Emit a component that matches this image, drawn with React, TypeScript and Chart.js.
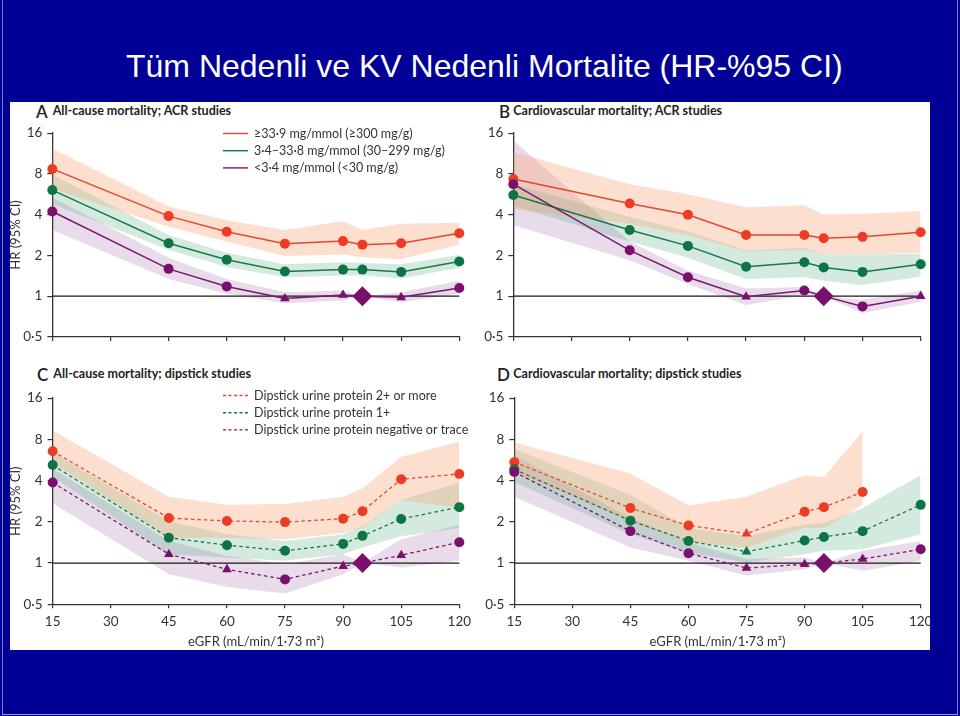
import React, { useEffect, useRef } from 'react';
import { Chart, registerables } from 'chart.js';

Chart.register(...registerables);

// ---------- data ----------
const EGFR = [15, 45, 60, 75, 90, 95, 105, 120];
const X_TICKS = [15, 30, 45, 60, 75, 90, 105, 120];
const Y_TICKS = [0.5, 1, 2, 4, 8, 16];

const TITLE = 'Tüm Nedenli ve KV Nedenli Mortalite (HR-%95 CI)';
const PANEL_LETTERS = ['A', 'B', 'C', 'D'];
const PANEL_TITLES = [
  'All-cause mortality; ACR studies',
  'Cardiovascular mortality; ACR studies',
  'All-cause mortality; dipstick studies',
  'Cardiovascular mortality; dipstick studies',
];
const ACR_LEGEND = ['≥33·9 mg/mmol (≥300 mg/g)', '3·4–33·8 mg/mmol (30–299 mg/g)', '<3·4 mg/mmol (<30 mg/g)'];
const DIP_LEGEND = ['Dipstick urine protein 2+ or more', 'Dipstick urine protein 1+', 'Dipstick urine protein negative or trace'];
const Y_TITLE = 'HR (95% CI)';
const X_TITLE = 'eGFR (mL/min/1·73 m²)';

// significance: s = significant (circle), n = non-significant (triangle), r = reference (diamond)
// Panel A
const redA_hr = [8.7, 3.9, 2.99, 2.44, 2.55, 2.4, 2.46, 2.91];
const redA_hi = [12.3, 4.6, 3.63, 3.08, 3.57, 3.08, 3.43, 3.49];
const redA_lo = [6.2, 3.25, 2.53, 1.98, 2.03, 1.94, 1.87, 2.4];
const redA_sig = ['s', 's', 's', 's', 's', 's', 's', 's'];
const greenA_hr = [6.07, 2.46, 1.86, 1.52, 1.57, 1.57, 1.51, 1.8];
const greenA_hi = [7.9, 2.83, 2.09, 1.72, 1.78, 1.76, 1.72, 2.02];
const greenA_lo = [4.8, 2.2, 1.64, 1.38, 1.42, 1.42, 1.35, 1.62];
const greenA_sig = ['s', 's', 's', 's', 's', 's', 's', 's'];
const purpleA_hr = [4.22, 1.59, 1.18, 0.96, 1.02, 1, 0.98, 1.15];
const purpleA_hi = [5.35, 1.92, 1.34, 1.07, 1.1, 1, 1.07, 1.3];
const purpleA_lo = [3.08, 1.34, 1.04, 0.886, 0.93, 1, 0.9, 1.04];
const purpleA_sig = ['s', 's', 's', 'n', 'n', 'r', 'n', 's'];

// Panel B
const redB_hr = [7.33, 4.84, 3.99, 2.83, 2.83, 2.68, 2.74, 2.96];
const redB_hi = [11.6, 6.7, 5.66, 4.53, 4.7, 4.0, 4.06, 4.24];
const redB_lo = [4.4, 3.43, 2.83, 2.15, 2.2, 2.03, 2.03, 2.09];
const redB_sig = ['s', 's', 's', 's', 's', 's', 's', 's'];
const greenB_hr = [5.59, 3.08, 2.35, 1.65, 1.78, 1.63, 1.51, 1.72];
const greenB_hi = [6.7, 3.84, 3.0, 2.17, 2.27, 2.03, 2.03, 2.06];
const greenB_lo = [4.66, 2.53, 1.92, 1.34, 1.38, 1.3, 1.21, 1.39];
const greenB_sig = ['s', 's', 's', 's', 's', 's', 's', 's'];
const purpleB_hr = [6.71, 2.18, 1.38, 0.99, 1.1, 1, 0.84, 1.0];
const purpleB_hi = [14.1, 2.53, 1.54, 1.14, 1.17, 1, 0.94, 1.1];
const purpleB_lo = [3.34, 1.84, 1.23, 0.86, 1.02, 1, 0.75, 0.91];
const purpleB_sig = ['s', 's', 's', 'n', 's', 'r', 's', 'n'];

// Panel C
const redC_hr = [6.54, 2.13, 2.03, 1.99, 2.11, 2.39, 4.09, 4.47];
const redC_hi = [9.3, 3.05, 2.66, 2.7, 3.05, 3.5, 5.98, 7.67];
const redC_lo = [5.45, 1.53, 1.53, 1.49, 1.66, 1.8, 2.89, 2.52];
const redC_sig = ['s', 's', 's', 's', 's', 's', 's', 's'];
const greenC_hr = [5.19, 1.53, 1.35, 1.23, 1.38, 1.58, 2.1, 2.56];
const greenC_hi = [6.45, 2.02, 1.62, 1.45, 1.62, 1.85, 2.89, 3.86];
const greenC_lo = [4.25, 1.16, 1.1, 1.04, 1.16, 1.3, 1.57, 1.8];
const greenC_sig = ['s', 's', 's', 's', 's', 's', 's', 's'];
const purpleC_hr = [3.87, 1.16, 0.9, 0.76, 0.95, 1, 1.14, 1.42];
const purpleC_hi = [4.9, 1.45, 1.13, 0.98, 1.16, 1, 1.49, 1.9];
const purpleC_lo = [2.73, 0.83, 0.67, 0.6, 0.83, 1, 0.93, 1.04];
const purpleC_sig = ['s', 'n', 'n', 's', 'n', 'r', 'n', 's'];

// Panel D
const redD_hr = [5.45, 2.52, 1.88, 1.64, 2.37, 2.56, 3.3, null];
const redD_hi = [7.58, 4.5, 2.63, 3.05, 4.37, 4.25, 9.2, null];
const redD_lo = [4.62, 2.02, 1.41, 1.3, 1.8, 1.8, 2.66, null];
const redD_sig = ['s', 's', 's', 'n', 's', 's', 's', 's'];
const greenD_hr = [4.83, 2.04, 1.45, 1.21, 1.46, 1.55, 1.71, 2.66];
const greenD_hi = [6.8, 3.14, 1.8, 1.57, 1.91, 1.96, 2.52, 4.37];
const greenD_lo = [3.9, 1.62, 1.19, 1.01, 1.16, 1.23, 1.26, 1.62];
const greenD_sig = ['s', 's', 's', 'n', 's', 's', 's', 's'];
const purpleD_hr = [4.62, 1.71, 1.18, 0.92, 0.98, 1, 1.07, 1.26];
const purpleD_hi = [6.1, 2.13, 1.41, 1.07, 1.1, 1, 1.23, 1.45];
const purpleD_lo = [3.05, 1.3, 1.04, 0.81, 0.9, 1, 0.88, 1.04];
const purpleD_sig = ['s', 's', 's', 'n', 'n', 'r', 'n', 's'];

// ---------- styles ----------
const COLORS = [
  { line: '#e5472f', marker: '#ee3b26', band: 'rgba(247,165,120,0.36)' },
  { line: '#17794a', marker: '#0e7443', band: 'rgba(60,160,110,0.22)' },
  { line: '#7a176f', marker: '#7a0f6c', band: 'rgba(150,90,160,0.22)' },
];
const FONT = 'Lato, "Open Sans", sans-serif';
const AXIS_COLOR = '#333';
const WHITE_BOX = { left: 10, top: 102, width: 920, height: 548 };

type Series = { hr: (number | null)[]; lo: (number | null)[]; hi: (number | null)[]; sig: string[] };

const toPts = (arr: (number | null)[]) =>
  EGFR.map((x, i) => ({ x, y: arr[i] })).filter((p) => p.y !== null && p.y !== undefined) as { x: number; y: number }[];

const fmt = (v: number) => (v === 0.5 ? '0·5' : String(v));

const insideLegend = {
  id: 'insideLegend',
  afterDraw(chart: any, _args: any, opts: any) {
    if (!opts || !opts.items) return;
    const ctx = chart.ctx;
    ctx.save();
    ctx.font = `12.5px ${FONT}`;
    ctx.textBaseline = 'middle';
    opts.items.forEach((it: any, i: number) => {
      const y = opts.y + i * opts.rowGap;
      ctx.strokeStyle = it.color;
      ctx.lineWidth = 1.4;
      ctx.setLineDash(it.dash || []);
      ctx.beginPath();
      ctx.moveTo(opts.x, y);
      ctx.lineTo(opts.x + opts.lineLen, y);
      ctx.stroke();
      ctx.setLineDash([]);
      ctx.fillStyle = '#333';
      ctx.fillText(it.text, opts.x + opts.lineLen + opts.gap, y);
    });
    ctx.restore();
  },
};

type PanelCfg = {
  left: number;
  top: number;
  width: number;
  height: number;
  yWidth: number;
  padTop: number;
  padRight: number;
  xHeight: number;
  xLabels: boolean;
  yTitle: boolean;
  dashed: boolean;
  series: Series[];
  legend: string[] | null;
};

const PANELS: PanelCfg[] = [
  {
    left: 8, top: 120, width: 472, height: 230, yWidth: 44.3, padTop: 12.3, padRight: 20.7, xHeight: 9.3,
    xLabels: false, yTitle: true, dashed: false,
    series: [
      { hr: redA_hr, lo: redA_lo, hi: redA_hi, sig: redA_sig },
      { hr: greenA_hr, lo: greenA_lo, hi: greenA_hi, sig: greenA_sig },
      { hr: purpleA_hr, lo: purpleA_lo, hi: purpleA_hi, sig: purpleA_sig },
    ],
    legend: ACR_LEGEND,
  },
  {
    left: 480, top: 120, width: 460, height: 230, yWidth: 33.3, padTop: 12.3, padRight: 19.3, xHeight: 10,
    xLabels: false, yTitle: false, dashed: false,
    series: [
      { hr: redB_hr, lo: redB_lo, hi: redB_hi, sig: redB_sig },
      { hr: greenB_hr, lo: greenB_lo, hi: greenB_hi, sig: greenB_sig },
      { hr: purpleB_hr, lo: purpleB_lo, hi: purpleB_hi, sig: purpleB_sig },
    ],
    legend: null,
  },
  {
    left: 8, top: 385, width: 472, height: 265, yWidth: 44.7, padTop: 10, padRight: 20.7, xHeight: 45.7,
    xLabels: true, yTitle: true, dashed: true,
    series: [
      { hr: redC_hr, lo: redC_lo, hi: redC_hi, sig: redC_sig },
      { hr: greenC_hr, lo: greenC_lo, hi: greenC_hi, sig: greenC_sig },
      { hr: purpleC_hr, lo: purpleC_lo, hi: purpleC_hi, sig: purpleC_sig },
    ],
    legend: DIP_LEGEND,
  },
  {
    left: 480, top: 385, width: 460, height: 265, yWidth: 34.3, padTop: 10, padRight: 19.3, xHeight: 45.7,
    xLabels: true, yTitle: false, dashed: true,
    series: [
      { hr: redD_hr, lo: redD_lo, hi: redD_hi, sig: redD_sig },
      { hr: greenD_hr, lo: greenD_lo, hi: greenD_hi, sig: greenD_sig },
      { hr: purpleD_hr, lo: purpleD_lo, hi: purpleD_hi, sig: purpleD_sig },
    ],
    legend: null,
  },
];

const shapeOf = (s: string) => (s === 'r' ? 'rectRot' : s === 'n' ? 'triangle' : 'circle');
const radiusOf = (s: string) => (s === 'r' ? 10 : s === 'n' ? 5.6 : 5);

function buildConfig(p: PanelCfg): any {
  const datasets: any[] = [];
  p.series.forEach((s, i) => {
    datasets.push({
      data: toPts(s.hi), fill: 2 * i + 1, backgroundColor: COLORS[i].band, borderWidth: 0,
      pointRadius: 0, order: 10, clip: false, tension: 0,
    });
    datasets.push({
      data: toPts(s.lo), fill: false, borderWidth: 0, pointRadius: 0, order: 10, clip: false, tension: 0,
    });
  });
  datasets.push({
    data: [{ x: X_TICKS[0], y: 1 }, { x: X_TICKS[X_TICKS.length - 1], y: 1 }],
    borderColor: '#1a1a1a', borderWidth: 1.3, pointRadius: 0, order: 5, fill: false, clip: false,
  });
  p.series.forEach((s, i) => {
    const pts = toPts(s.hr);
    const sig = EGFR.map((_, k) => s.sig[k]).filter((_, k) => s.hr[k] !== null);
    datasets.push({
      data: pts, fill: false, borderColor: COLORS[i].line, borderWidth: p.dashed ? 1.3 : 1.5,
      borderDash: p.dashed ? [3.5, 3] : [],
      pointStyle: sig.map(shapeOf), pointRadius: sig.map(radiusOf),
      pointBackgroundColor: COLORS[i].marker, pointBorderColor: COLORS[i].marker, pointBorderWidth: 0,
      order: 3 - i, clip: false, tension: 0,
    });
  });

  const tickFont = { family: FONT, size: 13.5 };
  const options: any = {
    responsive: false,
    animation: false,
    events: [],
    layout: { padding: { top: p.padTop, right: p.padRight, left: 0, bottom: 0 } },
    plugins: {
      legend: { display: false },
      tooltip: { enabled: false },
      insideLegend: p.legend
        ? {
            x: 215,
            y: p.xLabels ? 10.5 : 13.5,
            rowGap: 17.2,
            lineLen: 25,
            gap: 6,
            items: p.legend.map((t, i) => ({ text: t, color: COLORS[i].line, dash: p.dashed ? [3, 2.5] : [] })),
          }
        : false,
    },
    scales: {
      x: {
        type: 'linear', min: X_TICKS[0], max: X_TICKS[X_TICKS.length - 1],
        afterBuildTicks: (sc: any) => { sc.ticks = X_TICKS.map((v) => ({ value: v })); },
        afterFit: (sc: any) => { sc.height = p.xHeight; },
        ticks: { display: p.xLabels, font: tickFont, color: AXIS_COLOR, padding: 5, maxRotation: 0, autoSkip: false, callback: (v: number) => String(v) },
        grid: { drawOnChartArea: false, drawTicks: true, tickLength: 4, color: AXIS_COLOR, lineWidth: 1.2 },
        border: { display: true, color: AXIS_COLOR, width: 1.3 },
        title: { display: p.xLabels, text: X_TITLE, font: { family: FONT, size: 13 }, color: AXIS_COLOR, padding: 0 },
      },
      y: {
        type: 'logarithmic', min: Y_TICKS[0], max: Y_TICKS[Y_TICKS.length - 1],
        afterBuildTicks: (sc: any) => { sc.ticks = Y_TICKS.map((v) => ({ value: v })); },
        afterFit: (sc: any) => { sc.width = p.yWidth; },
        ticks: { font: tickFont, color: AXIS_COLOR, padding: 5, autoSkip: false, callback: (v: number) => fmt(v) },
        grid: { drawOnChartArea: false, drawTicks: true, tickLength: 5, color: AXIS_COLOR, lineWidth: 1.2 },
        border: { display: true, color: AXIS_COLOR, width: 1.3 },
        title: { display: p.yTitle, text: Y_TITLE, font: { family: FONT, size: 13 }, color: AXIS_COLOR, padding: 0 },
      },
    },
  };
  return { type: 'line', data: { datasets }, options, plugins: p.legend ? [insideLegend] : [] };
}

function Panel({ cfg }: { cfg: PanelCfg }) {
  const ref = useRef<HTMLCanvasElement | null>(null);
  useEffect(() => {
    if (!ref.current) return;
    const chart = new Chart(ref.current, buildConfig(cfg));
    return () => chart.destroy();
  }, [cfg]);
  return (
    <canvas
      ref={ref}
      width={cfg.width}
      height={cfg.height}
      style={{
        position: 'absolute',
        left: cfg.left - WHITE_BOX.left,
        top: cfg.top - WHITE_BOX.top,
        width: cfg.width,
        height: cfg.height,
      }}
    />
  );
}

const TITLE_POS = [
  { letterX: 36, textX: 52.7, y: 111.7 },
  { letterX: 499, textX: 513.3, y: 111.7 },
  { letterX: 37, textX: 53.3, y: 375 },
  { letterX: 497, textX: 513.3, y: 375 },
];

export default function App() {
  return (
    <div
      style={{
        position: 'fixed', left: 0, top: 0, width: 960, height: 716, background: '#000096', overflow: 'hidden',
      }}
    >
      <div style={{ position: 'absolute', left: 2, top: -2, width: 954, height: 716, borderLeft: '1px solid #7c7cc4', borderRight: '1px solid #7c7cc4', borderBottom: '1px solid #9a9ac8' }} />
      <div
        style={{
          position: 'absolute', left: 126, top: 48, whiteSpace: 'nowrap', color: '#fff',
          font: '32px "Liberation Sans", Arial, sans-serif', lineHeight: '36px',
        }}
      >
        {TITLE}
      </div>
      <div
        style={{
          position: 'absolute', left: WHITE_BOX.left, top: WHITE_BOX.top, width: WHITE_BOX.width,
          height: WHITE_BOX.height, background: '#fff', overflow: 'hidden',
        }}
      >
        {TITLE_POS.map((t, i) => (
          <React.Fragment key={i}>
            <div
              style={{
                position: 'absolute', left: t.letterX - WHITE_BOX.left, top: t.y - 11 - WHITE_BOX.top, height: 22,
                lineHeight: '22px', font: `600 17px ${FONT}`, color: '#222',
              }}
            >
              {PANEL_LETTERS[i]}
            </div>
            <div
              style={{
                position: 'absolute', left: t.textX - WHITE_BOX.left, top: t.y - 9 - WHITE_BOX.top, height: 18,
                lineHeight: '18px', whiteSpace: 'nowrap', font: `bold 12.5px ${FONT}`, color: '#222',
              }}
            >
              {PANEL_TITLES[i]}
            </div>
          </React.Fragment>
        ))}
        {PANELS.map((p, i) => (
          <Panel key={i} cfg={p} />
        ))}
      </div>
    </div>
  );
}
